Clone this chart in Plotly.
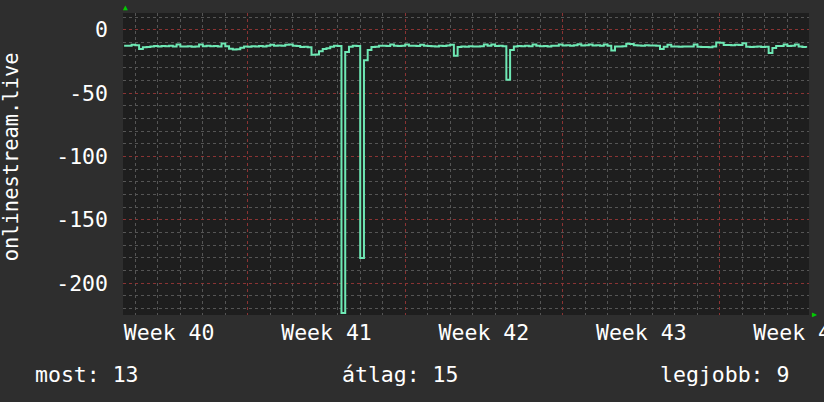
import pandas as pd
import plotly.graph_objects as go

# 4-hour samples starting Tue 2023-10-03 12:00
sample_start = "2023-10-03 12:00"
sample_step = "4h"
values = [
    -12.6, -12.6, -11.8, -12.2, -15.2, -13.8, -13.6, -13.2, -12.8, -13.3,
    -12.8, -13.0, -12.7, -13.2, -11.6, -13.3, -13.3, -13.0, -13.4, -13.2,
    -11.6, -13.0, -12.6, -13.1, -12.8, -13.2, -10.8, -13.0, -15.0, -15.6,
    -15.4, -14.2, -13.3, -13.4, -13.1, -13.3, -12.9, -13.2, -12.6, -11.9,
    -12.7, -12.5, -12.7, -11.8, -11.6, -12.6, -12.8, -13.6, -13.4, -13.8,
    -19.7, -19.5, -17.0, -15.2, -14.6, -13.4, -12.6, -12.8, -223.5, -17.5,
    -13.4, -12.6, -12.8, -180.0, -24.0, -16.0, -13.6, -13.5, -12.6, -12.6,
    -12.8, -11.6, -12.6, -12.9, -12.6, -11.6, -12.7, -12.6, -12.9, -11.8,
    -12.6, -12.8, -13.1, -13.2, -12.6, -12.8, -12.4, -11.9, -20.5, -13.6,
    -13.3, -13.4, -13.0, -13.3, -13.2, -13.0, -11.6, -12.6, -11.7, -12.8,
    -12.6, -13.0, -39.5, -16.0, -13.2, -12.8, -13.0, -12.7, -13.1, -11.6,
    -12.6, -13.0, -12.8, -13.2, -12.7, -12.6, -11.6, -12.4, -12.3, -12.6,
    -12.2, -11.5, -12.4, -12.2, -11.6, -12.4, -12.3, -12.6, -11.7, -12.6,
    -16.3, -13.3, -13.3, -13.0, -11.0, -11.2, -12.3, -12.4, -12.6, -12.2,
    -12.4, -12.5, -12.6, -15.2, -13.4, -11.8, -13.3, -13.2, -13.4, -13.3,
    -13.2, -13.3, -11.6, -13.5, -13.7, -13.6, -13.8, -13.2, -10.0, -10.3,
    -12.0, -12.0, -12.2, -11.9, -12.0, -10.6, -13.4, -13.6, -13.5, -13.2,
    -13.6, -13.5, -18.4, -14.4, -12.8, -12.9, -11.6, -12.8, -12.7, -11.7,
    -13.2, -13.6, -14.2,
]

week_label_dates = ["2023-10-05 12:00", "2023-10-12 12:00", "2023-10-19 12:00",
                    "2023-10-26 12:00", "2023-11-02 12:00"]
week_labels = ["Week 40", "Week 41", "Week 42", "Week 43", "Week 44"]

y_ticks = [0, -50, -100, -150, -200]
y_tick_labels = ["0", "-50", "-100", "-150", "-200"]

series_name = "onlinestream.live"
stat_now = 13
stat_avg = 15
stat_best = 9

x_range = ["2023-10-03 10:48", "2023-11-02 23:03"]
y_range = [-225, 13.2]

BG = "#2e2e2e"
PLOT_BG = "#1e1e1e"
LINE = "#6ee8b4"
GRID_MINOR = "#555555"
GRID_MAJOR = "#8a3333"
FONT = "DejaVu Sans Mono"
DAY_MS = 86400000

times = pd.date_range(sample_start, periods=len(values), freq=sample_step)

fig = go.Figure()
fig.add_trace(
    go.Scatter(
        x=times,
        y=values,
        mode="lines",
        line=dict(color=LINE, width=2, shape="hv"),
        showlegend=False,
        hoverinfo="skip",
    )
)
# empty trace so the label axis gets drawn
fig.add_trace(
    go.Scatter(x=week_label_dates, y=[None] * len(week_label_dates),
               xaxis="x2", mode="lines", showlegend=False, hoverinfo="skip")
)

fig.update_layout(
    width=824,
    height=402,
    margin=dict(l=123, r=15, t=13, b=87),
    paper_bgcolor=BG,
    plot_bgcolor=PLOT_BG,
    font=dict(family=FONT, color="white", size=21.5),
    showlegend=False,
    # grid axis: day minor lines, week major lines
    xaxis=dict(
        type="date",
        range=x_range,
        showticklabels=False,
        ticks="",
        tick0="2023-10-09",
        dtick=7 * DAY_MS,
        showgrid=True,
        gridcolor=GRID_MAJOR,
        griddash="dot",
        gridwidth=1,
        minor=dict(dtick=DAY_MS, tick0="2023-10-09", showgrid=True,
                   gridcolor=GRID_MINOR, griddash="dot", gridwidth=1),
        zeroline=False,
        showline=False,
        automargin=False,
    ),
    # label axis: week names centred in the week
    xaxis2=dict(
        type="date",
        overlaying="x",
        side="bottom",
        anchor="y",
        range=x_range,
        tickmode="array",
        tickvals=week_label_dates,
        ticktext=week_labels,
        ticks="",
        showgrid=False,
        zeroline=False,
        showline=False,
        ticklabelstandoff=2,
        ticklabeloverflow="allow",
        automargin=False,
    ),
    yaxis=dict(
        range=y_range,
        tickmode="array",
        tickvals=y_ticks,
        ticktext=y_tick_labels,
        ticks="",
        showgrid=True,
        gridcolor=GRID_MAJOR,
        griddash="dot",
        gridwidth=1,
        minor=dict(dtick=10, tick0=0, showgrid=True,
                   gridcolor=GRID_MINOR, griddash="dot", gridwidth=1),
        zeroline=False,
        showline=False,
        ticklabelstandoff=14,
        automargin=False,
    ),
)

ann = [
    dict(text=series_name, xref="paper", yref="paper", x=-0.163, y=0.523,
         textangle=-90, showarrow=False, xanchor="center", yanchor="middle",
         font=dict(size=20.4)),
    dict(text=f"most: {stat_now}", xref="paper", yref="paper", x=-0.131, y=-0.197,
         showarrow=False, xanchor="left", yanchor="middle"),
    dict(text=f"átlag: {stat_avg}", xref="paper", yref="paper", x=0.404, y=-0.197,
         showarrow=False, xanchor="center", yanchor="middle"),
    dict(text=f"legjobb: {stat_best}", xref="paper", yref="paper", x=0.974, y=-0.197,
         showarrow=False, xanchor="right", yanchor="middle"),
    dict(text="▲", xref="paper", yref="paper", x=0.003, y=0.998, showarrow=False,
         xanchor="center", yanchor="bottom", font=dict(size=8, color="#00cc00")),
    dict(text="▶", xref="paper", yref="paper", x=1.002, y=0.003, showarrow=False,
         xanchor="left", yanchor="middle", font=dict(size=8, color="#00cc00")),
]
fig.update_layout(annotations=ann)

fig.write_html(
    "out.html",
    config={"displayModeBar": False},
    post_script="document.body.style.margin='0';",
)
